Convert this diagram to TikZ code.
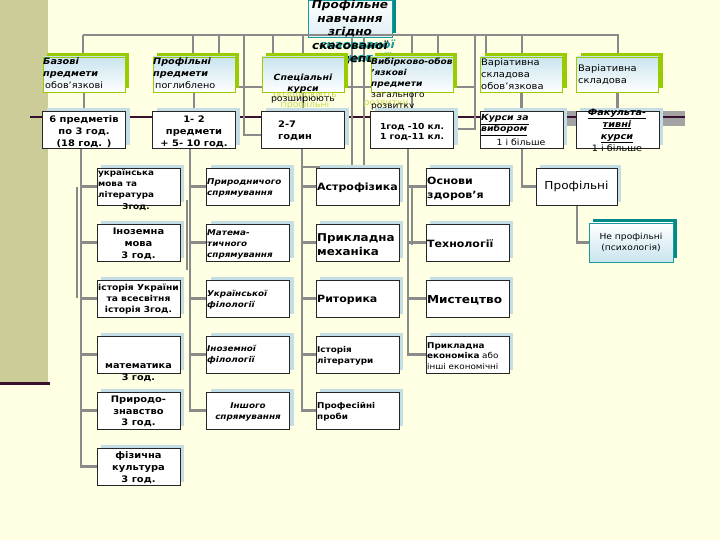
\documentclass[tikz,border=0pt]{standalone}
\usepackage{fontspec}
\setmainfont{DejaVu Sans}[FakeStretch=1.1]
\usetikzlibrary{shadows}
\definecolor{bg}{HTML}{FFFFE3}
\definecolor{khaki}{HTML}{CCCC99}
\definecolor{lime}{HTML}{99CC00}
\definecolor{conn}{HTML}{8A8A8A}
\definecolor{sbl}{HTML}{C5DEE6}
\definecolor{topblue}{HTML}{C9E4EE}
\definecolor{tealb}{HTML}{1A9A9A}
\definecolor{tealsh}{HTML}{008A8A}
\definecolor{plum}{HTML}{3A1030}
\definecolor{ghost}{HTML}{C8D850}
\newcommand{\fs}[2]{\fontsize{#1}{#2}\selectfont}
\begin{document}
\begin{tikzpicture}[x=1pt,y=-1pt,
 cn/.style={draw=conn, line width=2.6pt},
 topbox/.style={draw=lime, line width=0.8pt, top color=topblue, bottom color=white, minimum width=82pt, minimum height=35pt, inner sep=0pt, general shadow={fill=lime, shadow xshift=4pt, shadow yshift=4pt}},
 wbox/.style={draw=black!85, line width=0.7pt, fill=white, minimum width=83pt, minimum height=37pt, inner sep=0pt, general shadow={fill=sbl, shadow xshift=4pt, shadow yshift=3pt}},
 tx/.style={inner sep=0pt, align=left, anchor=north west},
 tc/.style={inner sep=0pt, align=center},
]
\useasboundingbox (0,0) rectangle (720,540);
\fill[bg] (0,0) rectangle (720,540);
\fill[khaki] (0,0) rectangle (48,382);
\draw[plum, line width=3pt] (0,383) -- (50,383);
\fill[black!36] (567,111) rectangle (685,126);
\draw[plum, line width=1.6pt] (30,117) -- (685,117);

% title box
\node[draw=tealb, line width=0.8pt, top color=white, bottom color=topblue!60, minimum width=84pt, minimum height=37pt, inner sep=0pt, general shadow={fill=tealsh, shadow xshift=4pt, shadow yshift=4pt}] (title) at (350,18.5) {};

% connectors (behind boxes)
\coordinate (busL) at (83,35);
\coordinate (busR) at (618,35);
\coordinate (k1) at (244,35);
\coordinate (k2) at (475,35);
\draw[cn] (busL) -- (busR);

\coordinate (t1c) at (84,74.5);
\coordinate (t2c) at (194,74.5);
\coordinate (t3c) at (303,74.5);
\coordinate (t4c) at (412,74.5);
\coordinate (t5c) at (521.5,74.5);
\coordinate (t6c) at (617.5,74.5);

\foreach \c/\dx in {t1c/-1,t2c/-1,t2c/25,t3c/-30,t3c/0,t4c/0,t4c/26,t5c/-35.5,t5c/0.5,t6c/0.5}
  \draw[cn] ([xshift=\dx pt]\c) |- (busL);
\draw[cn] (k1) |- (262,135);
\draw[cn] (k2) |- (453,129);
\draw[cn] (235,87) -- (475,87);
\draw[cn] (352,37) -- (352,165);
\draw[cn] (364,37) -- (364,165);
\draw[cn] (302,167) -- (364,167);
\foreach \c in {t1c,t2c,t3c,t4c,t5c,t6c}
  \draw[cn] (\c) -- ++(0,56);

% title text (behind top boxes)
\node[tc, text=tealb, font=\bfseries\itshape\fs{11}{13.5}] (ghost1) at (357,44) {скасованої};
\node[tc, text=tealb, font=\bfseries\itshape\fs{11}{13.5}] (ghost2) at (357,58) {концепції};
\node[tc, anchor=north, font=\bfseries\itshape\fs{11}{13.5}] (titletext) at (350,0) {Профільне\\навчання\\згідно\\скасованої\\концепції};

% column trunks
\foreach \y in {186.5,242.5,298.5,354.5,410.5,466.5}
  \draw[cn] (81,148) |- (97,\y);
\draw[cn] (77,187) -- (77,298);
\foreach \y in {186.5,242.5,298.5,354.5,410.5}
  \draw[cn] (190,148) |- (206,\y);
\draw[cn] (187,200) -- (187,270);
\foreach \y in {186.5,242.5,298.5,354.5,410.5}
  \draw[cn] (302,148) |- (316,\y);
\foreach \y in {186.5,242.5,298.5,354.5}
  \draw[cn] (408,148) |- (426,\y);
\draw[cn] (412,186) -- (412,245);
\draw[cn] (522,148) |- (536,186.5);
\draw[cn] (577,205) |- (590,242.5);

% top row
\node[topbox] (t1) at (t1c) {};
\node[topbox] (t2) at (t2c) {};
\node[topbox] (t3) at (t3c) {};
\node[topbox] (t4) at (t4c) {};
\node[topbox] (t5) at (t5c) {};
\node[topbox] (t6) at (t6c) {};

\node[tx, font=\fs{8.8}{12}] (t1x) at (43,57.5) {{\bfseries\itshape Базові}\\{\bfseries\itshape предмети}\\\hspace{2pt}обов'язкові};
\node[tx, font=\fs{8.8}{12}] (t2x) at (153,57.5) {{\bfseries\itshape Профільні}\\{\bfseries\itshape предмети}\\\hspace{2pt}поглиблено};
\node[tc, text=ghost, font=\fs{8.5}{10}] (t3g) at (305,101) {розширюють\\профільні};
\node[tc, anchor=north, font=\fs{8.5}{10.5}] (t3x) at (303,74) {{\bfseries\itshape Спеціальні}\\{\bfseries\itshape курси}\\розширюють};
\node[tc, text=ghost, font=\fs{8.5}{10}] (t4g) at (386,104) {розвитку};
\node[tx, font=\fs{8.2}{11}] (t4x) at (371,57.5) {{\bfseries\itshape Вибірково-обов}\\{\bfseries\itshape 'язкові}\\{\bfseries\itshape предмети}\\загального\\розвитку};
\node[tx, font=\fs{9}{12}] (t5x) at (481,58) {Варіативна\\складова\\обов'язкова};
\node[tx, font=\fs{9}{12}] (t6x) at (578,64) {Варіативна\\складова};

% second row
\node[wbox] (s1) at (84,130) {};
\node[wbox] (s2) at (194,130) {};
\node[wbox] (s3) at (303,130) {};
\node[wbox] (s4) at (412,130) {};
\node[wbox] (s5) at (521.5,130) {};
\node[wbox] (s6) at (617.5,130) {};

\node[tc, font=\bfseries\fs{9}{12}] (s1x) at (84,132) {6 предметів\\по 3 год.\\(18 год. )};
\node[tc, font=\bfseries\fs{9}{12}] (s2x) at (194,132) {1- 2\\предмети\\+ 5- 10 год.};
\node[tx, anchor=west, font=\bfseries\fs{9}{12}] (s3x) at (278,131) {2-7\\годин};
\node[tc, font=\bfseries\fs{8.3}{10.5}] (s4x) at (412,132) {1год -10 кл.\\1 год-11 кл.};
\node[tx, font=\fs{8.5}{11}] (s5x) at (481,114.5) {{\bfseries\itshape\underline{Курси за}}\\{\bfseries\itshape\underline{вибором}}};
\node[tc, font=\fs{8.5}{11}] (s5y) at (521,142) {1 і більше};
\node[tc, anchor=north, font=\fs{8.8}{12}] (s6x) at (617,108.5) {{\bfseries\itshape\underline{Факульта-}}\\{\bfseries\itshape\underline{тивні}}\\{\bfseries\itshape\underline{курси}}\\1 і більше};

% column A
\node[wbox] (a1) at (138.5,186.5) {};
\node[wbox] (a2) at (138.5,242.5) {};
\node[wbox] (a3) at (138.5,298.5) {};
\node[wbox] (a4) at (138.5,354.5) {};
\node[wbox] (a5) at (138.5,410.5) {};
\node[wbox] (a6) at (138.5,466.5) {};
\node[tx, font=\bfseries\fs{8}{11}] (a1x) at (98,169) {українська\\мова та\\література};
\node[tc, font=\bfseries\fs{8}{11}] (a1y) at (136,207) {3год.};
\node[tc, font=\bfseries\fs{9}{12}] (a2x) at (138.5,244) {Іноземна\\мова\\3 год.};
\node[tc, font=\bfseries\fs{8.3}{11}] (a3x) at (138.5,299) {історія України\\та всесвітня\\історія 3год.};
\node[tc, font=\bfseries\fs{8.8}{12}] (a4x) at (138.5,373) {математика\\3 год.};
\node[tc, font=\bfseries\fs{9}{11.5}] (a5x) at (138.5,411.5) {Природо-\\знавство\\3 год.};
\node[tc, font=\bfseries\fs{9}{12}] (a6x) at (138.5,468) {фізична\\культура\\3 год.};

% column B
\node[wbox] (b1) at (248,186.5) {};
\node[wbox] (b2) at (248,242.5) {};
\node[wbox] (b3) at (248,298.5) {};
\node[wbox] (b4) at (248,354.5) {};
\node[wbox] (b5) at (248,410.5) {};
\node[tx, anchor=west, font=\bfseries\itshape\fs{8}{11}] (b1x) at (207,187.5) {Природничого\\спрямування};
\node[tx, anchor=west, font=\bfseries\itshape\fs{8}{11}] (b2x) at (207,244) {Матема-\\тичного\\спрямування};
\node[tx, anchor=west, font=\bfseries\itshape\fs{8}{11}] (b3x) at (207,299.5) {Української\\філології};
\node[tx, anchor=west, font=\bfseries\itshape\fs{8}{11}] (b4x) at (207,355) {Іноземної\\філології};
\node[tc, font=\bfseries\itshape\fs{8}{11}] (b5x) at (248,411.5) {Іншого\\спрямування};

% column C
\node[wbox] (c1) at (357.5,186.5) {};
\node[wbox] (c2) at (357.5,242.5) {};
\node[wbox] (c3) at (357.5,298.5) {};
\node[wbox] (c4) at (357.5,354.5) {};
\node[wbox] (c5) at (357.5,410.5) {};
\node[tx, anchor=west, font=\bfseries\fs{10}{12}] (c1x) at (317,187.5) {Астрофізика};
\node[tx, anchor=west, font=\bfseries\fs{10.8}{14}] (c2x) at (317,244.5) {Прикладна\\механіка};
\node[tx, anchor=west, font=\bfseries\fs{10}{12}] (c3x) at (317,299.5) {Риторика};
\node[tx, anchor=west, font=\bfseries\fs{8}{11}] (c4x) at (317,356) {Історія\\літератури};
\node[tx, anchor=west, font=\bfseries\fs{8}{11}] (c5x) at (317,412) {Професійні\\проби};

% column D
\node[wbox] (d1) at (467.5,186.5) {};
\node[wbox] (d2) at (467.5,242.5) {};
\node[wbox] (d3) at (467.5,298.5) {};
\node[wbox] (d4) at (467.5,354.5) {};
\node[tx, anchor=west, font=\bfseries\fs{10}{14}] (d1x) at (427,188.5) {Основи\\здоров'я};
\node[tx, anchor=west, font=\bfseries\fs{10}{12}] (d2x) at (427,244) {Технології};
\node[tx, anchor=west, font=\bfseries\fs{11}{13}] (d3x) at (427,300) {Мистецтво};
\node[tx, anchor=west, font=\fs{8}{10.5}] (d4x) at (427,356) {{\bfseries Прикладна}\\{\bfseries економіка} або\\інші економічні};

% column E / F
\node[wbox, minimum width=81pt] (e) at (576.5,186.5) {\fs{11}{13}Профільні};
\node[draw=tealb, line width=0.8pt, top color=white, bottom color=topblue, minimum width=84pt, minimum height=39pt, inner sep=0pt, align=center, font=\fs{8.3}{11}, general shadow={fill=tealsh, shadow xshift=4pt, shadow yshift=4pt}] (f) at (631,242.5) {Не профільні\\(психологія)};
\end{tikzpicture}
\end{document}
